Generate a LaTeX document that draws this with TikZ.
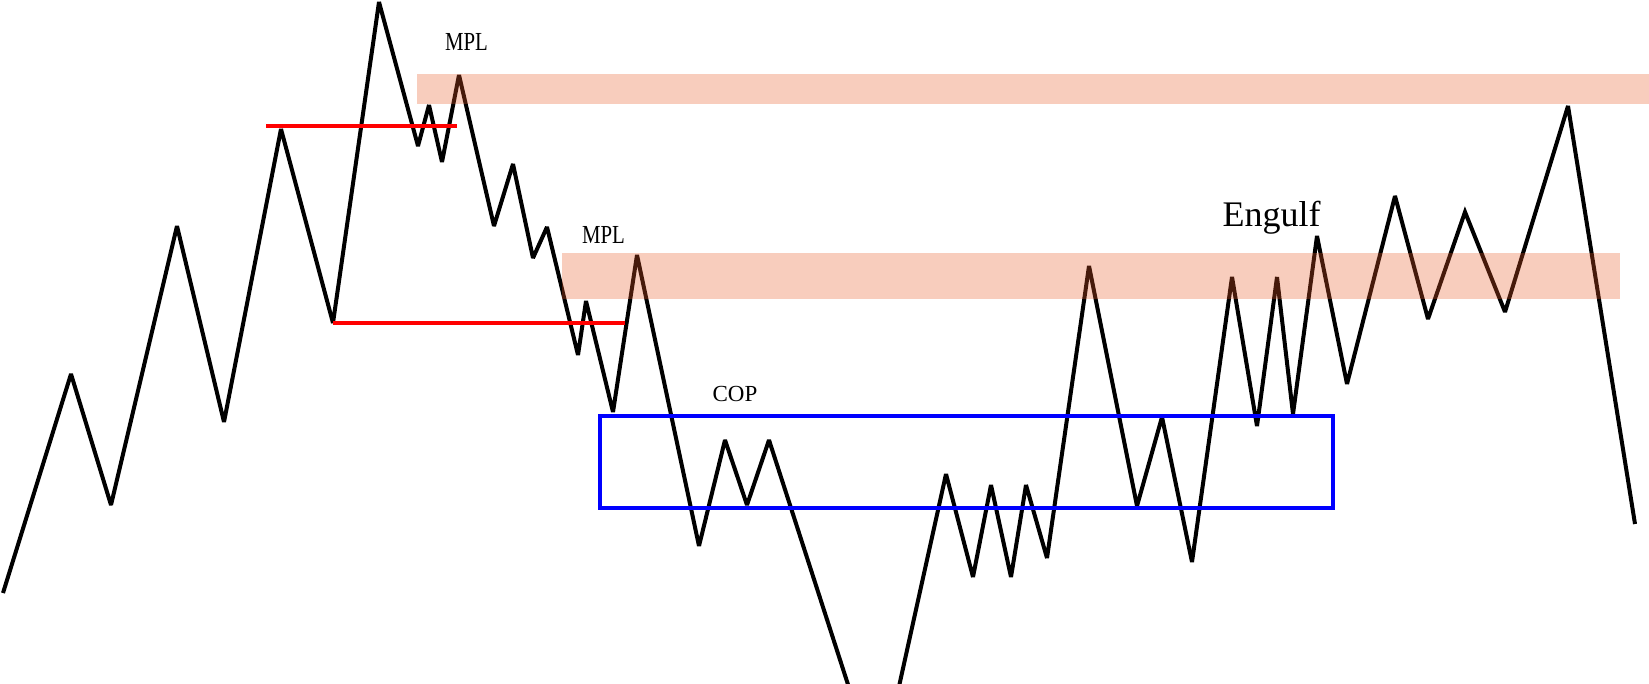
\documentclass[tikz,border=0pt]{standalone}
\usepackage{fontspec}
\usepackage{graphicx}
\setmainfont{Liberation Serif}
\definecolor{bandc}{RGB}{232,88,38}
\begin{document}
\begin{tikzpicture}[x=1pt,y=-1pt,
  price/.style={line width=4pt, black, line join=miter, miter limit=3},
  level/.style={line width=3.5pt, red},
  zone/.style={fill=bandc, fill opacity=0.3},
  copbox/.style={draw=blue, line width=4pt},
  lbl/.style={inner sep=0pt, anchor=base}]
\useasboundingbox (0,0) rectangle (1649,683);
\clip (0,0) rectangle (1649,683);
% price path, first leg
\draw[price] (3,593) -- (71,374) -- (111,505) -- (177,226) -- (224,422) -- (281,129)
  -- (333,323) -- (379,2) -- (418,146) -- (429,105) -- (442,162) -- (459,75)
  -- (494,226) -- (513,164) -- (533,258) -- (547,227) -- (578,355) -- (586,301)
  -- (613,412) -- (637,255) -- (699,546) -- (725,440) -- (747,505) -- (769,440)
  -- (853,700);
% price path, second leg
\draw[price] (896,700) -- (946,474) -- (973,577) -- (991,485) -- (1011,577) -- (1026,485)
  -- (1047,558) -- (1089,266) -- (1137,506) -- (1162,417) -- (1192,562) -- (1232,277)
  -- (1257,426) -- (1277,277) -- (1293,414) -- (1317,236) -- (1347,384) -- (1395,196)
  -- (1428,319) -- (1465,212) -- (1505,312) -- (1568,106) -- (1635,524);
% supply zones
\fill[zone] (417,73.5) rectangle (1649,104);
\fill[zone] (562,253) rectangle (1620,299);
% red levels
\draw[level] (266,126) -- (457,126);
\draw[level] (333,323) -- (625,323);
% COP box
\draw[copbox] (600,415.5) rectangle (1333,508);
% labels
\node[lbl, font=\fontsize{26}{30}\selectfont] (mpla) at (466.5,50) {\scalebox{0.8}[1]{MPL}};
\node[lbl, font=\fontsize{26}{30}\selectfont] (mplb) at (603.5,243) {\scalebox{0.8}[1]{MPL}};
\node[lbl, font=\fontsize{23}{27}\selectfont] (cop) at (735,401) {COP};
\node[lbl, font=\fontsize{36}{40}\selectfont] (engulf) at (1271.5,226) {Engulf};
\end{tikzpicture}
\end{document}
